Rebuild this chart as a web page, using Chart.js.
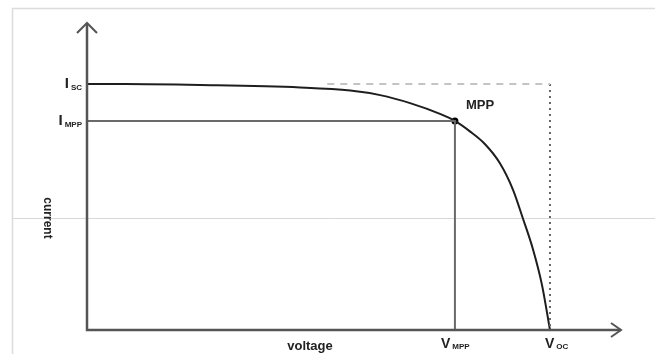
<!DOCTYPE html>
<html>
<head>
<meta charset="utf-8">
<script src="https://cdn.jsdelivr.net/npm/chart.js@4/dist/chart.umd.min.js"></script>
<style>
  html, body { margin: 0; padding: 0; background: #fff; }
  #wrap { width: 655px; height: 354px; position: relative; }
</style>
</head>
<body>
<div id="wrap"><canvas id="iv"></canvas></div>
<script>
// curva I-V (unidades arbitrarias)
const voltaje = [0, 7.1, 21.2, 39.9, 49.3, 54.9, 60.5, 66.1, 68.9, 71.7, 74.5, 77.3, 79.8, 81.6, 83.5, 85.2, 86.7];
const corriente = [80.1, 80.1, 79.8, 79.0, 78.0, 76.5, 73.9, 70.4, 68.1, 64.7, 60.6, 54.4, 45.6, 36.5, 26.4, 14.7, 0];

const ISC = 80.1, IMPP = 68.1, VMPP = 68.9, VOC = 86.7;
const etiquetasY = [["I", "SC", ISC], ["I", "MPP", IMPP]];
const etiquetasX = [["V", "MPP", VMPP], ["V", "OC", VOC]];

const puntos = voltaje.map((v, i) => ({ x: v, y: corriente[i] }));

// dibuja ejes con flecha, etiquetas y marco
const decoracion = {
  id: 'decoracion',
  beforeDraw(chart) {
    const c = chart.ctx;
    c.save();
    // marco de la imagen escaneada
    c.strokeStyle = '#dcdcdc';
    c.lineWidth = 1.5;
    c.beginPath();
    c.moveTo(12.5, 354); c.lineTo(12.5, 8.5); c.lineTo(655, 8.5);
    c.stroke();
    c.strokeStyle = '#d8d8d8';
    c.lineWidth = 1;
    c.beginPath();
    c.moveTo(12, 218.5); c.lineTo(655, 218.5);
    c.stroke();
    c.restore();
  },
  afterDraw(chart) {
    const c = chart.ctx, a = chart.chartArea;
    const sx = chart.scales.x, sy = chart.scales.y;
    c.save();
    c.strokeStyle = '#555';
    c.lineWidth = 2.5;
    c.beginPath();
    c.moveTo(a.left, a.top); c.lineTo(a.left, a.bottom); c.lineTo(a.right, a.bottom);
    c.stroke();
    c.lineWidth = 2;
    c.beginPath();
    c.moveTo(a.left - 10, a.top + 10); c.lineTo(a.left, a.top); c.lineTo(a.left + 10, a.top + 10);
    c.moveTo(a.right - 10, a.bottom - 7); c.lineTo(a.right, a.bottom); c.lineTo(a.right - 10, a.bottom + 7);
    c.stroke();

    c.fillStyle = '#222';
    c.textBaseline = 'middle';
    etiquetasY.forEach(([p, s, v]) => {
      const y = sy.getPixelForValue(v);
      c.font = 'bold 8px "Liberation Sans"';
      const ws = c.measureText(s).width;
      c.textAlign = 'right';
      c.fillText(s, a.left - 5, y + 4);
      c.font = 'bold 15px "Liberation Sans"';
      c.fillText(p, a.left - 7 - ws, y);
    });
    const desp = [-14, -5];
    etiquetasX.forEach(([p, s, v], i) => {
      const x = sx.getPixelForValue(v) + desp[i];
      c.textAlign = 'left';
      c.font = 'bold 14px "Liberation Sans"';
      const wp = c.measureText(p).width;
      c.fillText(p, x, a.bottom + 14);
      c.font = 'bold 8px "Liberation Sans"';
      c.fillText(s, x + wp + 2, a.bottom + 17);
    });
    c.font = 'bold 13px "Liberation Sans"';
    c.textAlign = 'left';
    c.fillText('MPP', sx.getPixelForValue(VMPP) + 11, sy.getPixelForValue(IMPP) - 16);
    c.textAlign = 'center';
    c.fillText('voltage', 310, a.bottom + 16);
    c.translate(47, 218);
    c.rotate(Math.PI / 2);
    c.font = 'bold 12px "Liberation Sans"';
    c.fillText('current', 0, 0);
    c.restore();
  }
};

new Chart(document.getElementById('iv'), {
  type: 'scatter',
  data: {
    datasets: [
      {
        label: 'Isc',
        data: [{ x: 45, y: ISC }, { x: VOC, y: ISC }],
        showLine: true, borderColor: '#c4c4c4', borderWidth: 2,
        borderDash: [7, 6], pointRadius: 0
      },
      {
        label: 'Voc',
        data: [{ x: VOC, y: ISC }, { x: VOC, y: 0 }],
        showLine: true, borderColor: '#666', borderWidth: 2,
        borderDash: [2, 4], pointRadius: 0
      },
      {
        label: 'MPP',
        data: [{ x: 0, y: IMPP }, { x: VMPP, y: IMPP }, { x: VMPP, y: 0 }],
        showLine: true, borderColor: '#6a6a6a', borderWidth: 2, pointRadius: 0
      },
      {
        label: 'I-V',
        data: puntos,
        showLine: true, borderColor: '#1e1e1e', borderWidth: 2,
        cubicInterpolationMode: 'monotone', pointRadius: 0
      },
      {
        label: 'punto',
        data: [{ x: VMPP, y: IMPP }],
        pointRadius: 3.5, pointBackgroundColor: '#000', pointBorderWidth: 0
      }
    ]
  },
  options: {
    responsive: true,
    maintainAspectRatio: false,
    animation: false,
    layout: { padding: { left: 87, right: 34, top: 23, bottom: 24 } },
    plugins: { legend: { display: false }, tooltip: { enabled: false } },
    scales: {
      x: { type: 'linear', min: 0, max: 100, display: false },
      y: { type: 'linear', min: 0, max: 100, display: false }
    }
  },
  plugins: [decoracion]
});
</script>
</body>
</html>
